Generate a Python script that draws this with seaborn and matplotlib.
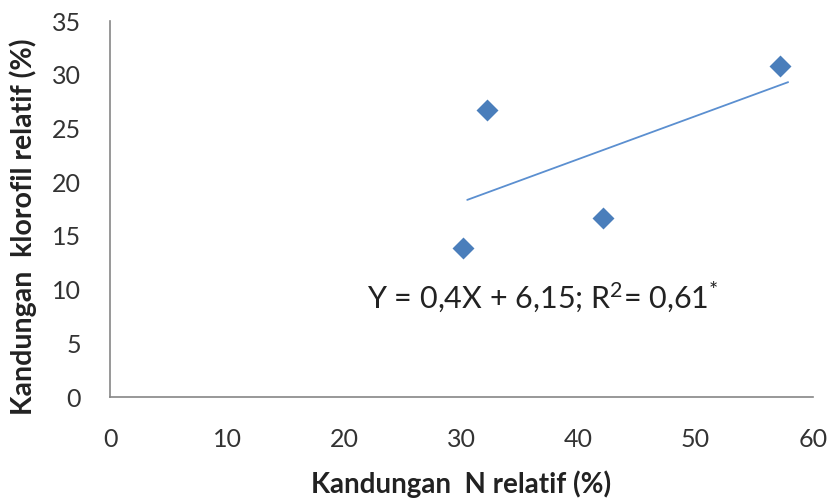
import matplotlib
matplotlib.use("Agg")
import matplotlib.pyplot as plt
import seaborn as sns
import numpy as np
import pandas as pd

# Data
n_relatif = [30.1, 32.2, 42.1, 57.2]
klorofil_relatif = [13.9, 26.7, 16.7, 30.8]
slope = 0.4
intercept = 6.15
x_ticks = [0, 10, 20, 30, 40, 50, 60]
y_ticks = [0, 5, 10, 15, 20, 25, 30, 35]
x_label = "Kandungan  N relatif (%)"
y_label = "Kandungan  klorofil relatif (%)"
eq_text = "Y = 0,4X + 6,15; R$^{2}$= 0,61$^{*}$"

sns.set_style("white")
plt.rcParams['font.family'] = ['Lato', 'DejaVu Sans']
plt.rcParams['mathtext.fontset'] = 'custom'
plt.rcParams['mathtext.rm'] = 'Lato'
plt.rcParams['mathtext.it'] = 'Lato'
plt.rcParams['mathtext.bf'] = 'Lato:bold'

df = pd.DataFrame({"x": n_relatif, "y": klorofil_relatif})

fig = plt.figure(figsize=(8.31, 5.03), dpi=100)
ax = fig.add_axes([0.1324, 0.2107, 0.8456, 0.7475])

blue = "#4a7ebb"
sns.scatterplot(data=df, x="x", y="y", marker="D", s=125, color=blue,
                edgecolor=blue, linewidth=0, ax=ax, zorder=3)

xl = np.array([min(n_relatif) + 0.4, max(n_relatif) + 0.7])
ax.plot(xl, slope * xl + intercept, color="#5b8fd0", lw=1.3, zorder=2)

ax.set_xlim(0, 60)
ax.set_ylim(0, 35)
ax.set_xticks(x_ticks)
ax.set_yticks(y_ticks)
ax.tick_params(axis="both", direction="in", length=5, width=1, color="#868686",
               labelsize=18, labelcolor="#333333")
ax.tick_params(axis="x", pad=22)
ax.tick_params(axis="y", pad=21)

for s in ["top", "right"]:
    ax.spines[s].set_visible(False)
for s in ["left", "bottom"]:
    ax.spines[s].set_color("#868686")
    ax.spines[s].set_linewidth(1.2)

ax.set_xlabel(x_label, fontsize=20, fontweight="bold", color="#222222", labelpad=14)
ax.set_ylabel(y_label, fontsize=20.5, fontweight="bold", color="#222222")
ax.yaxis.set_label_coords(-0.104, 0.452)

ax.text(21.9, 9.3, eq_text, fontsize=22, color="#222222", va="center", ha="left")

fig.savefig("out.png", dpi=100)
